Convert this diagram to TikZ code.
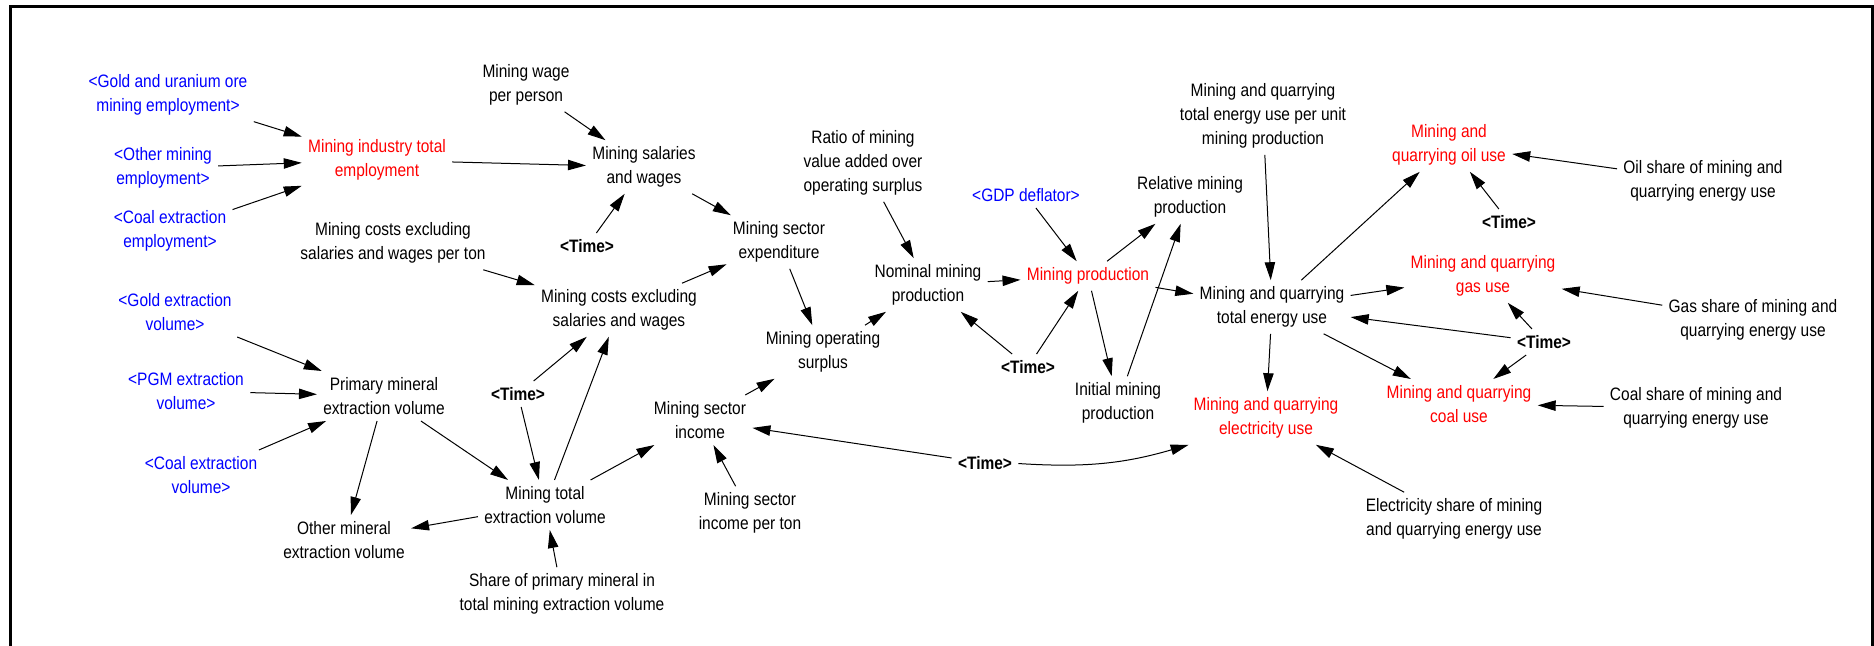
\documentclass[tikz,border=0pt]{standalone}
\usepackage{fontspec}
\setmainfont{Liberation Sans}[FakeStretch=0.86]
\usetikzlibrary{arrows.meta}
\definecolor{vred}{RGB}{255,0,0}
\definecolor{vblue}{RGB}{0,0,255}
\begin{document}
\begin{tikzpicture}[x=0.5pt,y=-0.5pt,
  v/.style={align=center,inner sep=3pt,font=\fontsize{9pt}{12pt}\selectfont},
  rv/.style={v,text=vred},
  bv/.style={v,text=vblue},
  tm/.style={v,font=\fontsize{9pt}{12pt}\selectfont\bfseries},
  arr/.style={-{Triangle[length=9pt,width=5.2pt]},line width=0.5pt},
  frame/.style={line width=1.5pt}]
\useasboundingbox (0,0) rectangle (1874,646);
\draw[frame] (10.5,646) -- (10.5,6.5) -- (1872.5,6.5) -- (1872.5,646);

% nodes
\node[bv] (goldur) at (168,95) {<Gold and uranium ore\\mining employment>};
\node[bv] (otheremp) at (163,168) {<Other mining\\employment>};
\node[bv] (coalemp) at (170,231) {<Coal extraction\\employment>};
\node[rv] (mite) at (377,160) {Mining industry total\\employment};
\node[v] (wage) at (526,85) {Mining wage\\per person};
\node[v] (sal) at (644,167) {Mining salaries\\and wages};
\node[tm] (timeA) at (587,246) {<Time>};
\node[v] (mcexton) at (393,243) {Mining costs excluding\\salaries and wages per ton};
\node[v] (mcex) at (619,310) {Mining costs excluding\\salaries and wages};
\node[bv] (goldext) at (175,312) {<Gold extraction\\volume>};
\node[bv] (pgm) at (186,391) {<PGM extraction\\volume>};
\node[bv] (coalext) at (201,475) {<Coal extraction\\volume>};
\node[v] (pmev) at (384,396) {Primary mineral\\extraction volume};
\node[tm] (timeB) at (518,394) {<Time>};
\node[v] (mtev) at (545,505) {Mining total\\extraction volume};
\node[v] (omev) at (344,540) {Other mineral\\extraction volume};
\node[v] (sharepm) at (562,594) {Share of primary mineral in\\total mining extraction volume};
\node[v] (msi) at (700,420) {Mining sector\\income};
\node[v] (mse) at (779,242) {Mining sector\\expenditure};
\node[v] (ratio) at (863,163) {Ratio of mining\\value added over\\operating surplus};
\node[bv] (gdp) at (1026,195) {<GDP deflator>};
\node[v] (nmp) at (928,285) {Nominal mining\\production};
\node[rv] (mp) at (1088,276) {Mining production};
\node[v] (rmp) at (1190,197) {Relative mining\\production};
\node[v] (eper) at (1263,116) {Mining and quarrying\\total energy use per unit\\mining production};
\node[v] (mqteu) at (1272,307) {Mining and quarrying\\total energy use};
\node[v] (mos) at (823,352) {Mining operating\\surplus};
\node[tm] (timeC) at (1028,367) {<Time>};
\node[v] (imp) at (1118,403) {Initial mining\\production};
\node[v] (msipt) at (750,513) {Mining sector\\income per ton};
\node[tm] (timeD) at (985,463) {<Time>};
\node[rv] (mqel) at (1266,418) {Mining and quarrying\\electricity use};
\node[rv] (oil) at (1449,145) {Mining and\\quarrying oil use};
\node[v] (oilsh) at (1703,181) {Oil share of mining and\\quarrying energy use};
\node[tm] (timeE) at (1509,222) {<Time>};
\node[rv] (gas) at (1483,276) {Mining and quarrying\\gas use};
\node[v] (gassh) at (1753,320) {Gas share of mining and\\quarrying energy use};
\node[tm] (timeF) at (1544,342) {<Time>};
\node[rv] (coal) at (1459,404) {Mining and quarrying\\coal use};
\node[v] (coalsh) at (1696,408) {Coal share of mining and\\quarrying energy use};
\node[v] (elecsh) at (1454,519) {Electricity share of mining\\and quarrying energy use};

% connectors
\draw[arr] (goldur) -- (mite);
\draw[arr] (otheremp) -- (mite);
\draw[arr] (coalemp) -- (mite);
\draw[arr] (mite) -- (sal);
\draw[arr] (wage) -- (sal);
\draw[arr] (timeA) -- (sal);
\draw[arr] (sal) -- (mse);
\draw[arr] (mcexton) -- (mcex);
\draw[arr] (mcex) -- (mse);
\draw[arr] (mse) -- (mos);
\draw[arr] (goldext) -- (pmev);
\draw[arr] (pgm) -- (pmev);
\draw[arr] (coalext) -- (pmev);
\draw[arr] (pmev) -- (omev);
\draw[arr] (pmev) -- (mtev);
\draw[arr] (timeB) -- (mcex);
\draw[arr] (timeB) -- (mtev);
\draw[arr] (mtev) -- (mcex);
\draw[arr] (mtev) -- (omev);
\draw[arr] (sharepm) -- (mtev);
\draw[arr] (mtev) -- (msi);
\draw[arr] (msi) -- (mos);
\draw[arr] (msipt) -- (msi);
\draw[arr] (mos) -- (nmp);
\draw[arr] (ratio) -- (nmp);
\draw[arr] (timeC) -- (nmp);
\draw[arr] (timeC) -- (mp);
\draw[arr] (nmp) -- (mp);
\draw[arr] (gdp) -- (mp);
\draw[arr] (mp) -- (rmp);
\draw[arr] (mp) -- (imp);
\draw[arr] (imp) -- (rmp);
\draw[arr] (mp) -- (mqteu);
\draw[arr] (eper) -- (mqteu);
\draw[arr] (timeD) -- (msi);
\draw[arr] (timeD) to[bend right=10] (mqel);
\draw[arr] (mqteu) -- (mqel);
\draw[arr] (mqteu) -- (oil);
\draw[arr] (mqteu) -- (gas);
\draw[arr] (mqteu) -- (coal);
\draw[arr] (timeF) -- (mqteu);
\draw[arr] (timeF) -- (gas);
\draw[arr] (timeF) -- (coal);
\draw[arr] (timeE) -- (oil);
\draw[arr] (oilsh) -- (oil);
\draw[arr] (gassh) -- (gas);
\draw[arr] (coalsh) -- (coal);
\draw[arr] (elecsh) -- (mqel);
\end{tikzpicture}
\end{document}
